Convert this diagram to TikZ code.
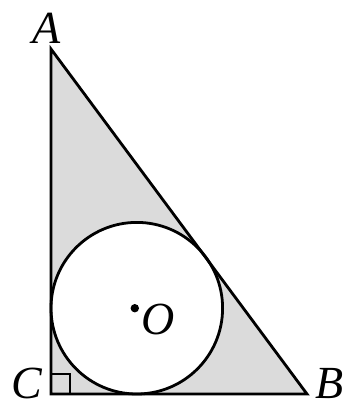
\documentclass[tikz,border=0pt]{standalone}
\usepackage{fontspec}
\setmainfont{Liberation Serif}
\begin{document}
\begin{tikzpicture}[x=1pt,y=-1pt,
  edge/.style={line width=2.8pt,line join=miter},
  lbl/.style={font=\fontsize{46}{46}\selectfont\itshape,inner sep=0pt,anchor=base}]
\useasboundingbox (0,0) rectangle (349,408);
\coordinate (A) at (51,49);
\coordinate (C) at (51,394);
\coordinate (B) at (307,394);
\coordinate (O) at (136.8,308.2);
\fill[black!14] (A) -- (B) -- (C) -- cycle;
\fill[white] (O) circle (85.8);
\draw[edge] (O) circle (85.8);
\draw[edge] (A) -- (B) -- (C) -- cycle;
\draw[line width=2.4pt] (51,374) -- (70,374) -- (70,394);
\fill (O) ++(-2,0) circle (4.2);
\node[lbl] (lA) at (47,43) {A};
\node[lbl] (lC) at (27,398) {C};
\node[lbl] (lB) at (330,398) {B};
\node[lbl] (lO) at (158,334) {O};
\end{tikzpicture}
\end{document}
